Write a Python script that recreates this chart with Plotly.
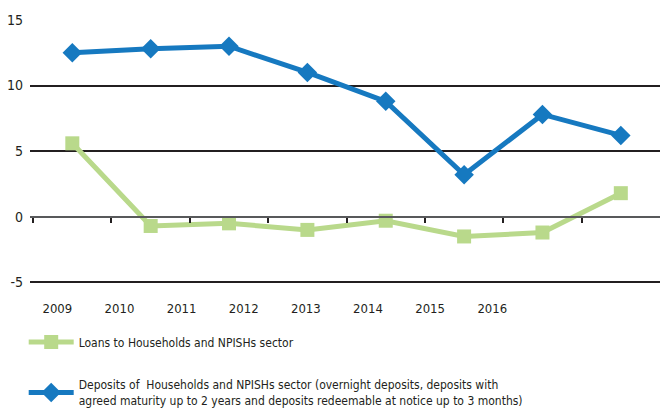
import plotly.graph_objects as go

years = ["2009", "2010", "2011", "2012", "2013", "2014", "2015", "2016"]
loans = [5.6, -0.7, -0.5, -1.0, -0.3, -1.5, -1.2, 1.8]
deposits = [12.5, 12.8, 13.0, 11.0, 8.8, 3.2, 7.8, 6.2]
y_ticks = [-5, 0, 5, 10, 15]
y_tick_text = ["-5", "0", "5", "10", "15"]

loans_name = "Loans to Households and NPISHs sector"
deposits_name = ("Deposits of  Households and NPISHs sector (overnight deposits, deposits with<br>"
                 "agreed maturity up to 2 years and deposits redeemable at notice up to 3 months)")

FONT = "DejaVu Sans Condensed, Liberation Sans Narrow, sans-serif"
TXT = "#231f20"
GREEN = "#b9d98b"
BLUE = "#1679c0"

idx = list(range(len(years)))

fig = go.Figure()
fig.add_trace(go.Scatter(
    x=idx, y=loans, name=loans_name, mode="lines+markers",
    legendgroup="loans",
    line=dict(color=GREEN, width=5),
    marker=dict(symbol="square", size=14, color=GREEN),
))
fig.add_trace(go.Scatter(
    x=idx, y=deposits, name=deposits_name, mode="lines+markers",
    legendgroup="deposits",
    line=dict(color=BLUE, width=5),
    marker=dict(symbol="diamond", size=15, color=BLUE),
))
# empty trace so the year-label axis gets its own subplot
fig.add_trace(go.Scatter(
    x=[], y=[], xaxis="x2", yaxis="y", showlegend=False, hoverinfo="skip",
))

fig.update_layout(
    width=660, height=416,
    margin=dict(l=30, r=0, t=20, b=131, autoexpand=False),
    paper_bgcolor="white", plot_bgcolor="white",
    font=dict(family=FONT, size=13, color=TXT),
    showlegend=True,
    legend=dict(
        x=-0.01, y=-0.16, xanchor="left", yanchor="top",
        orientation="v", traceorder="grouped",
        font=dict(family=FONT, size=12, color=TXT),
        tracegroupgap=24, itemwidth=45,
        bgcolor="rgba(0,0,0,0)",
    ),
    # category axis drawn along the zero line, ticks at category boundaries
    xaxis=dict(
        range=[-0.54, 7.5], anchor="free", position=5.2 / 20.2,
        showline=True, linecolor="#58595b", linewidth=2,
        ticks="outside", ticklen=5, tickwidth=1.5, tickcolor=TXT,
        tickvals=[i - 0.5 for i in idx],
        showticklabels=False, showgrid=False, zeroline=False,
        automargin=False,
    ),
    # year labels along the bottom
    xaxis2=dict(
        overlaying="x", anchor="y", side="bottom",
        range=[-0.44, 9.7],
        tickvals=idx, ticktext=years,
        showline=False, showgrid=False, zeroline=False, ticks="",
        tickfont=dict(family=FONT, size=13, color=TXT),
        ticklabelstandoff=14, automargin=False,
    ),
    yaxis=dict(
        range=[-5.2, 15], tickvals=y_ticks, ticktext=y_tick_text,
        showgrid=True, gridcolor=TXT, gridwidth=1.5,
        zeroline=False, showline=False, ticks="",
        tickfont=dict(family=FONT, size=14, color=TXT),
        ticklabelstandoff=6, automargin=False,
    ),
)

fig.write_html("out.html")
